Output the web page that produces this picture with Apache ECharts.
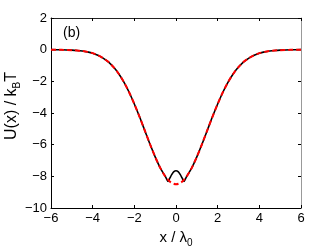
<!DOCTYPE html>
<html><head><meta charset="utf-8">
<script src="https://cdn.jsdelivr.net/npm/echarts@6/dist/echarts.min.js"></script>
<style>html,body{margin:0;padding:0;background:#fff}#c{width:332px;height:247px}</style>
</head><body><div id="c"></div>
<script>
var xTicks = [-6, -4, -2, 0, 2, 4, 6];
var yTicks = [-10, -8, -6, -4, -2, 0, 2];
var redX = [-6,-5.5,-5,-4.75,-4.5,-4.25,-4,-3.75,-3.5,-3.25,-3,-2.75,-2.5,-2.25,-2,-1.75,-1.5,-1.25,-1,-0.75,-0.5,-0.25,0,0.25,0.5,0.75,1,1.25,1.5,1.75,2,2.25,2.5,2.75,3,3.25,3.5,3.75,4,4.25,4.5,4.75,5,5.5,6];
var redU = [0,-0.01,-0.03,-0.05,-0.085,-0.14,-0.22,-0.35,-0.53,-0.77,-1.10,-1.52,-2.05,-2.69,-3.43,-4.24,-5.10,-5.96,-6.77,-7.48,-8.03,-8.38,-8.50,-8.38,-8.03,-7.48,-6.77,-5.96,-5.10,-4.24,-3.43,-2.69,-2.05,-1.52,-1.10,-0.77,-0.53,-0.35,-0.22,-0.14,-0.085,-0.05,-0.03,-0.01,0];
var blackX = [-6,-5.5,-5,-4.75,-4.5,-4.25,-4,-3.75,-3.5,-3.25,-3,-2.75,-2.5,-2.25,-2,-1.75,-1.5,-1.25,-1,-0.75,-0.5,-0.45,-0.38,-0.3,-0.2,-0.1,0,0.1,0.2,0.3,0.38,0.45,0.5,0.75,1,1.25,1.5,1.75,2,2.25,2.5,2.75,3,3.25,3.5,3.75,4,4.25,4.5,4.75,5,5.5,6];
var blackU = [0,-0.01,-0.03,-0.05,-0.085,-0.14,-0.22,-0.35,-0.53,-0.77,-1.10,-1.52,-2.05,-2.69,-3.43,-4.24,-5.10,-5.96,-6.77,-7.48,-8.03,-8.18,-8.32,-8.12,-7.88,-7.70,-7.65,-7.70,-7.88,-8.12,-8.32,-8.18,-8.03,-7.48,-6.77,-5.96,-5.10,-4.24,-3.43,-2.69,-2.05,-1.52,-1.10,-0.77,-0.53,-0.35,-0.22,-0.14,-0.085,-0.05,-0.03,-0.01,0];
var panelLabel = '(b)';

function pairs(xs, ys){ return xs.map(function(x,i){ return [x, ys[i]]; }); }
var font = 'Liberation Sans, Arial, sans-serif';
var chart = echarts.init(document.getElementById('c'), null, {renderer:'canvas'});
var tickStyle = {show:true, inside:true, length:3, lineStyle:{color:'#000', width:1}};
function fmt(v){ return (v<0?'\u2212':'') + Math.abs(v); }
chart.setOption({
  animation:false,
  grid:{left:51, right:31, top:18, bottom:39, containLabel:false, outerBoundsMode:'none'},
  xAxis:[{
    type:'value', min:-6, max:6, interval:2, position:'bottom',
    axisLine:{show:true, onZero:false, lineStyle:{color:'#000', width:1}},
    axisTick:tickStyle, splitLine:{show:false},
    axisLabel:{color:'#000', fontFamily:font, fontSize:13, margin:4, formatter:fmt},
    name:'{a|x / \u03bb}{s|0}', nameLocation:'middle', nameGap:20, nameMoveOverlap:false,
    nameTextStyle:{rich:{a:{fontFamily:font, fontSize:15, color:'#000'}, s:{fontFamily:font, fontSize:10, color:'#000', padding:[10,0,0,0]}}}
  },{
    type:'value', min:-6, max:6, interval:2, position:'top',
    axisLine:{show:true, onZero:false, lineStyle:{color:'#222', width:1}},
    axisTick:tickStyle, axisLabel:{show:false}, splitLine:{show:false}
  }],
  yAxis:[{
    type:'value', min:-10, max:2, interval:2, position:'left',
    axisLine:{show:true, onZero:false, lineStyle:{color:'#000', width:1}},
    axisTick:tickStyle, splitLine:{show:false},
    axisLabel:{color:'#000', fontFamily:font, fontSize:13, margin:4, formatter:fmt},
    name:'{p|}{a|U(x) / k}{s|B}{a|T}', nameLocation:'middle', nameGap:29, nameMoveOverlap:false,
    nameTextStyle:{rich:{p:{width:14}, a:{fontFamily:font, fontSize:16, color:'#000'}, s:{fontFamily:font, fontSize:10, color:'#000', padding:[11,0,0,0]}}}
  },{
    type:'value', min:-10, max:2, interval:2, position:'right',
    axisLine:{show:true, onZero:false, lineStyle:{color:'#999', width:1}},
    axisTick:tickStyle, axisLabel:{show:false}, splitLine:{show:false}
  }],
  graphic:[{type:'text', left:63, top:26, style:{text:panelLabel, font:'14px Liberation Sans, Arial, sans-serif', fill:'#000'}}],
  series:[{
    type:'line', data:pairs(blackX, blackU), showSymbol:false, smooth:0.3,
    lineStyle:{color:'#000', width:1.6}, z:2
  },{
    type:'line', data:pairs(redX, redU), showSymbol:false, smooth:0.3,
    lineStyle:{color:'#f00', width:2, type:[5,3]}, z:3
  }]
});
</script></body></html>
